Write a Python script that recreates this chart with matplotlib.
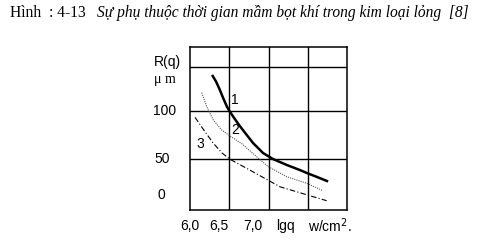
import numpy as np
import matplotlib
matplotlib.use('Agg')
import matplotlib.pyplot as plt

# curve values (lgq, R in um)
x1 = [6.289, 6.330, 6.375, 6.420, 6.468, 6.500, 6.560, 6.620, 6.690, 6.803, 6.930, 7.057, 7.236, 7.401, 7.490, 7.618, 7.745]
r1 = [136.5, 131.0, 123.0, 114.0, 105.0, 100.3, 93.0, 86.0, 78.5, 66.7, 56.3, 50.0, 43.7, 38.5, 35.4, 31.3, 27.1]

x2 = [6.149, 6.213, 6.297, 6.404, 6.510, 6.659, 6.850, 6.997, 7.232, 7.487, 7.656, 7.694]
r2 = [119.1, 104.5, 90.6, 80.2, 74.0, 66.0, 52.4, 42.0, 31.6, 24.7, 18.4, 17.0]

x3 = [6.064, 6.191, 6.297, 6.408, 6.510, 6.722, 6.934, 7.146, 7.359, 7.571, 7.741]
r3 = [93.4, 78.4, 66.4, 56.3, 49.7, 40.3, 30.7, 21.1, 15.9, 10.7, 6.6]

grid_x = [6.5, 7.0, 7.5]
grid_y = [50, 100, 146]
ytick_labels = ['100', '50', '0']
xtick_labels = ['6,0', '6,5', '7,0', 'lgq', 'w/cm$^2$.']

fig = plt.figure(figsize=(4.81, 2.40), dpi=100)
ax = fig.add_axes([190/481, 30/240, 157/481, 163/240])
ax.set_xlim(6.0, 8.0)
ax.set_ylim(-3.1, 166.7)
for gx in grid_x:
    ax.axvline(gx, color='black', lw=1.0)
for gy in grid_y:
    ax.axhline(gy, color='black', lw=1.0)
for s in ax.spines.values():
    s.set_linewidth(1.1)
ax.set_xticks([])
ax.set_yticks([])

ax.plot(x1, r1, color='black', lw=1.8)
ax.plot(x2, r2, color='#555555', lw=0.8, linestyle=(0, (1, 1)))
ax.plot(x3, r3, color='black', lw=0.8, linestyle=(0, (5, 2, 1, 2)))

ax.text(6.573, 111.5, '1', fontsize=10, family='Liberation Sans', ha='center', va='center')
ax.text(6.573, 80.2, '2', fontsize=10, family='Liberation Sans', ha='center', va='center')
ax.text(6.136, 65.6, '3', fontsize=10, family='Liberation Sans', ha='center', va='center')

lab = dict(fontsize=10, family='Liberation Sans', ha='center', va='center')
fig.text(167/481, 1 - 62/240, 'R(q)', **lab)
fig.text(165/481, 1 - 80/240, 'μ m', fontsize=10, family='Liberation Serif', ha='center', va='center')
for txt, yy, xx in zip(ytick_labels, [111, 159, 195], [165, 162, 161]):
    fig.text(xx/481, 1 - yy/240, txt, **lab)
for txt, xx in zip(xtick_labels, [190, 219, 253, 285, 330]):
    fig.text(xx/481, 1 - 226/240, txt, **lab)

fig.text(10/481, 1 - 13/240, 'Hình  : 4-13  ', fontsize=11.2, family='Liberation Serif',
         ha='left', va='center')
fig.text(97/481, 1 - 13/240, 'Sự phụ thuộc thời gian mầm bọt khí trong kim loại lỏng  [8]',
         fontsize=11.2, family='Liberation Serif', style='italic', ha='left', va='center')

fig.savefig('out.png', dpi=100)
